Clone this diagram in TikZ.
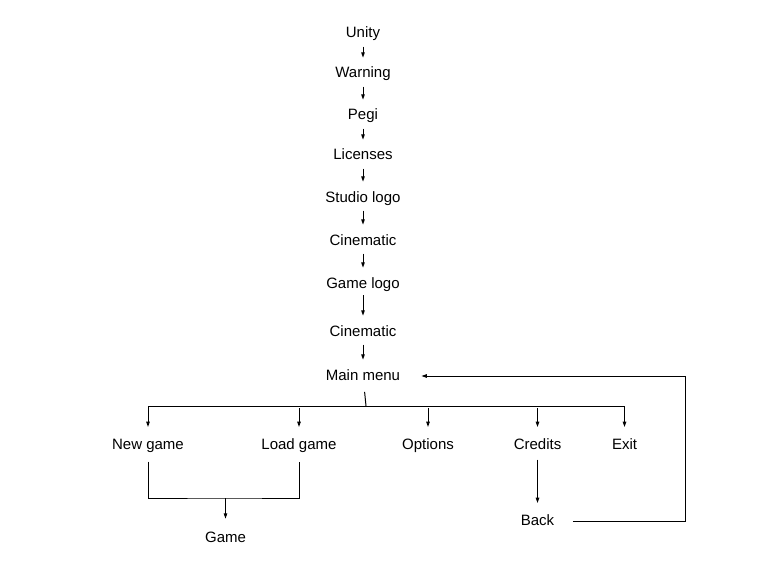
\documentclass[tikz,border=0pt]{standalone}
\usepackage{fontspec}
\setmainfont{Liberation Sans}
\usetikzlibrary{arrows.meta}
\begin{document}
\begin{tikzpicture}[x=0.75pt,y=-0.75pt,
  lbl/.style={inner sep=0pt, outer sep=0pt, text height=9pt, text depth=3pt,
    font=\fontsize{11.25pt}{13pt}\selectfont},
  ln/.style={line width=0.75pt, draw=black},
  arr/.style={ln, -{Triangle[length=4pt,width=2.6pt]}},
  chain/.style={arr, shorten <=3.5pt, shorten >=6.25pt}]
\useasboundingbox (0,0) rectangle (770,574);
% nodes
\node[lbl] (unity)  at (363,34)  {Unity};
\node[lbl] (warn)   at (363,74)  {Warning};
\node[lbl] (pegi)   at (363,116) {Pegi};
\node[lbl] (lic)    at (363,156) {Licenses};
\node[lbl] (studio) at (363,198) {Studio logo};
\node[lbl] (cinA)   at (363,241) {Cinematic};
\node[lbl] (glogo)  at (363,284) {Game logo};
\node[lbl] (cinB)   at (363,332) {Cinematic};
\node[lbl] (main)   at (363,376) {Main menu};
\node[lbl] (ng)     at (148,445) {New game};
\node[lbl] (lg)     at (299,445) {Load game};
\node[lbl] (opt)    at (428,445) {Options};
\node[lbl] (cred)   at (537.5,445) {Credits};
\node[lbl] (exit)   at (624.5,445) {Exit};
\node[lbl] (game)   at (225.5,538) {Game};
\node[lbl] (back)   at (537.5,521) {Back};
% helper coordinates
\coordinate (bus)  at (366,406);
\coordinate (join) at (225.5,498);
\coordinate (rx)   at (685,0);
% vertical chain
\draw[chain] (unity) -- (warn);
\draw[chain] (warn) -- (pegi);
\draw[chain] (pegi) -- (lic);
\draw[chain] (lic) -- (studio);
\draw[chain] (studio) -- (cinA);
\draw[chain] (cinA) -- (glogo);
\draw[chain, shorten <=2.25pt] (glogo) -- (cinB);
\draw[chain] (cinB) -- (main);
% menu branches
\draw[ln, shorten <=6pt] (main) -- (bus);
\draw[arr, shorten >=7.5pt] (bus) -| (ng);
\draw[arr, shorten >=7.5pt] (bus) -| (exit);
\draw[arr, shorten <=1.5pt, shorten >=7.5pt] (lg |- bus) -- (lg);
\draw[arr, shorten <=1.5pt, shorten >=7.5pt] (opt |- bus) -- (opt);
\draw[arr, shorten <=1.5pt, shorten >=7.5pt] (cred |- bus) -- (cred);
% to game
\draw[ln, shorten <=6.5pt, shorten >=6.5pt] (ng) |- (join) -| (lg);
\draw[arr, shorten >=8.5pt] (join) -- (game);
% credits -> back -> main
\draw[arr, shorten <=5pt, shorten >=7.5pt] (cred) -- (back);
\draw[arr, shorten <=14pt, shorten >=16pt] (back) -- (back -| rx) -- (main -| rx) -- (main);
\end{tikzpicture}
\end{document}
